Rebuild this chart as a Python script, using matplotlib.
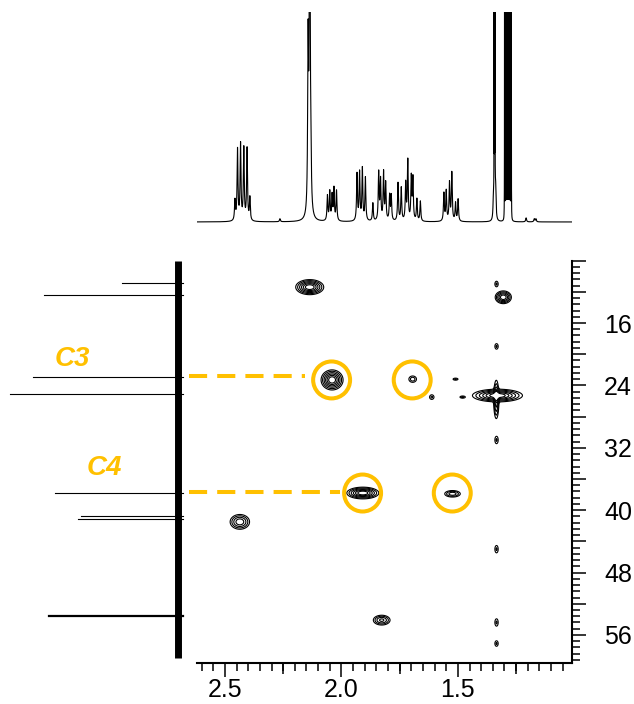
import numpy as np
import matplotlib.pyplot as plt
from matplotlib.patches import Ellipse
from matplotlib.ticker import MultipleLocator, FuncFormatter

plt.rcParams['font.family'] = ['Liberation Sans Narrow', 'Liberation Sans', 'DejaVu Sans']

GOLD = "#FFC000"

# 1H projection (top trace): line positions (ppm) and heights
H_SHIFT = [2.457, 2.446, 2.433, 2.419, 2.405, 2.393,
           2.264,
           2.143, 2.136, 2.131,
           2.060, 2.050, 2.040, 2.032, 2.021,
           1.933, 1.922, 1.910, 1.897, 1.865,
           1.840, 1.832, 1.819, 1.810, 1.793, 1.786,
           1.757, 1.743, 1.724, 1.715, 1.700, 1.693, 1.676, 1.661,
           1.560, 1.550, 1.536, 1.526, 1.510, 1.499,
           1.347, 1.338,
           1.207, 1.172, 1.165]
H_HEIGHT = [20, 71, 76, 72, 72, 23,
            3,
            165, 400, 40,
            25, 29, 25, 32, 30,
            47, 48, 52, 43, 18,
            48, 40, 48, 37, 25, 25,
            38, 33, 37, 60, 43, 42, 22, 20,
            28, 30, 38, 48, 18, 22,
            25, 35,
            4, 3, 3]
# dense unresolved lines of the two big methyl signals
H_BLOCK_SHIFT = [1.3445, 1.3425, 1.3405,
                 1.2995, 1.2959, 1.2923, 1.2887, 1.2851, 1.2815, 1.2779, 1.2743, 1.2707]
H_BLOCK_HEIGHT = [450, 450, 450,
                  500, 500, 500, 500, 500, 500, 500, 500, 500]

# 13C projection (left trace): shifts (ppm) and intensities
C_SHIFT = [10.9, 12.4, 22.9, 25.1, 37.8, 40.8, 41.1, 53.6]
C_INT = [56, 134, 145, 168, 123, 97, 100, 129]
C_LW = [0.8, 0.8, 0.8, 0.8, 0.8, 0.8, 0.8, 1.6]

# 2D cross peaks: 1H (ppm), 13C (ppm), widths, amplitude
X2D = [2.136, 1.305, 2.040, 1.694, 1.612, 1.330, 1.335, 1.908, 1.523, 2.436, 1.827,
       1.334, 1.334, 1.334, 1.334, 1.334, 1.334, 1.510, 1.480]
Y2D = [11.4, 12.7, 23.3, 23.2, 25.5, 25.3, 25.8, 37.8, 37.9, 41.5, 54.1,
       11.0, 19.0, 31.0, 45.0, 54.4, 57.1, 23.2, 25.5]
SX = [0.028, 0.017, 0.022, 0.012, 0.008, 0.050, 0.006, 0.032, 0.020, 0.022, 0.020,
      0.006, 0.006, 0.006, 0.006, 0.006, 0.006, 0.009, 0.009]
SY = [0.45, 0.40, 0.60, 0.30, 0.25, 0.38, 1.30, 0.35, 0.25, 0.50, 0.35,
      0.30, 0.30, 0.40, 0.40, 0.40, 0.30, 0.11, 0.11]
AMP = [1.0, 0.8, 1.0, 0.25, 0.2, 1.0, 0.6, 1.0, 0.4, 0.6, 0.5,
       0.2, 0.2, 0.2, 0.2, 0.2, 0.2, 0.2, 0.2]

# highlighted correlations
CIRCLE_X = [2.042, 1.696, 1.909, 1.524]
CIRCLE_Y = [23.3, 23.3, 37.8, 37.8]
GUIDE_Y = [22.8, 37.7]
GUIDE_END = [2.157, 2.007]
GUIDE_LABELS = ["C3", "C4"]
LABEL_POS = [(106, 20.6), (74, 34.6)]

XLIM = (2.62, 1.01)
YLIM = (59.6, 8.0)

fig = plt.figure(figsize=(6.34, 7.04), dpi=100)
ax = fig.add_axes([0.3107, 0.0582, 0.5915, 0.5716])
ax_top = fig.add_axes([0.3107, 0.6705, 0.5915, 0.3125])
ax_left = fig.add_axes([0.0, 0.0582, 0.3107, 0.5716])

# --- top 1H trace ---
xh = np.linspace(XLIM[0], XLIM[1], 20000)
yh = np.zeros_like(xh)
for pos, hgt in zip(H_SHIFT, H_HEIGHT):
    yh += hgt / (1 + ((xh - pos) / 0.0022) ** 2)
for pos, hgt in zip(H_BLOCK_SHIFT, H_BLOCK_HEIGHT):
    yh += hgt / (1 + ((xh - pos) / 0.00025) ** 2)
ax_top.plot(xh, yh, color="black", lw=0.8)
ax_top.set_xlim(XLIM)
ax_top.set_ylim(-10, 210)
ax_top.axis("off")

# --- left 13C trace ---
ax_left.vlines(0, 8.0, 58.9, color="black", lw=5)
for shift, inten, lw in zip(C_SHIFT, C_INT, C_LW):
    ax_left.plot([inten, -5], [shift, shift], color="black", lw=lw)
ax_left.set_xlim(178, -19)
ax_left.set_ylim(YLIM)
ax_left.axis("off")

for (lx, ly), lab in zip(LABEL_POS, GUIDE_LABELS):
    ax_left.text(lx, ly, lab, color=GOLD, fontsize=20, fontweight="bold",
                 fontstyle="italic", ha="center", va="center",
                 family=["Liberation Sans", "DejaVu Sans"])

# --- 2D contour map ---
gx = np.linspace(XLIM[1], XLIM[0], 1100)
gy = np.linspace(YLIM[1], YLIM[0], 1100)
GX, GY = np.meshgrid(gx, gy)
Z = np.zeros_like(GX)
for x0, y0, sx, sy, a in zip(X2D, Y2D, SX, SY, AMP):
    Z += a * np.exp(-0.5 * (((GX - x0) / sx) ** 2 + ((GY - y0) / sy) ** 2))
ax.contour(GX, GY, Z, levels=[0.1, 0.18, 0.3, 0.45, 0.62, 0.8],
           colors="black", linewidths=0.8)

for cx, cy in zip(CIRCLE_X, CIRCLE_Y):
    ax.add_patch(Ellipse((cx, cy), 0.1586, 4.74, fill=False,
                         edgecolor=GOLD, lw=2.9, zorder=5))
for gy_, gend in zip(GUIDE_Y, GUIDE_END):
    ax.plot([2.655, gend], [gy_, gy_], color=GOLD, lw=2.9,
            linestyle=(0, (4.5, 2.5)), clip_on=False, zorder=5)

ax.set_xlim(XLIM)
ax.set_ylim(YLIM)
ax.spines["top"].set_visible(False)
ax.spines["left"].set_visible(False)
ax.spines["bottom"].set_linewidth(1.5)
ax.spines["right"].set_linewidth(1.5)
ax.yaxis.tick_right()

ax.xaxis.set_major_locator(MultipleLocator(0.5))
ax.xaxis.set_minor_locator(MultipleLocator(0.05))
ax.xaxis.set_major_formatter(FuncFormatter(lambda v, p: f"{v:.1f}"))
ax.yaxis.set_major_locator(MultipleLocator(4))
ax.yaxis.set_minor_locator(MultipleLocator(0.8))
ax.yaxis.set_major_formatter(FuncFormatter(
    lambda v, p: f"{v:.0f}" if round(v) % 8 == 0 and v >= 15 else ""))

ax.tick_params(axis="x", which="major", length=10, width=1.1, labelsize=18, pad=1)
ax.tick_params(axis="x", which="minor", length=5.8, width=1.1)
ax.tick_params(axis="y", which="major", length=10, width=1.1, labelsize=18, pad=13)
ax.tick_params(axis="y", which="minor", length=5.8, width=1.1)

sec = ax.secondary_xaxis("bottom")
sec.set_xticks([2.25, 1.75, 1.25])
sec.tick_params(length=8, width=1.1, labelbottom=False)
sec.spines["bottom"].set_visible(False)

fig.savefig("out.png", dpi=100)
